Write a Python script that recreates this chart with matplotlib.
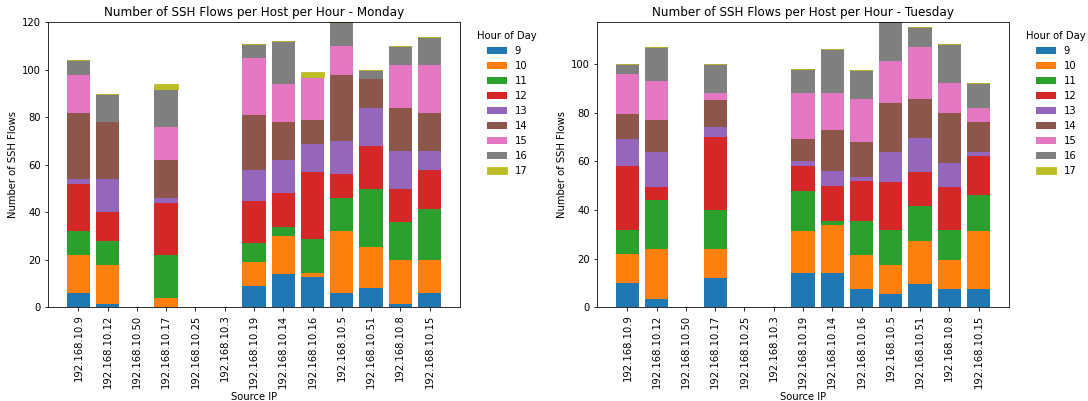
import numpy as np
import matplotlib
matplotlib.use("Agg")
import matplotlib.pyplot as plt

# source hosts (same order on both days)
hosts = ["192.168.10.9", "192.168.10.12", "192.168.10.50", "192.168.10.17",
         "192.168.10.25", "192.168.10.3", "192.168.10.19", "192.168.10.14",
         "192.168.10.16", "192.168.10.5", "192.168.10.51", "192.168.10.8",
         "192.168.10.15"]
hours = [9, 10, 11, 12, 13, 14, 15, 16, 17]

# flows per hour, one list per hour of day (values per host)
monday_9 = [6, 1.5, 0, 0, 0, 0, 9, 14, 13, 6, 8, 1.5, 6]
monday_10 = [16, 16.5, 0, 4, 0, 0, 10, 16, 1.5, 26, 17.5, 18.5, 14]
monday_11 = [10, 10, 0, 18, 0, 0, 8, 4, 14.5, 14, 24.5, 16, 21.5]
monday_12 = [20, 12, 0, 22, 0, 0, 18, 14, 28, 10, 18, 14, 16.5]
monday_13 = [2, 14, 0, 2, 0, 0, 13, 14, 12, 14, 16, 16, 8]
monday_14 = [28, 24, 0, 16, 0, 0, 23, 16, 10, 28, 12, 18, 16]
monday_15 = [16, 0, 0, 14, 0, 0, 24, 16, 18, 12, 0, 18, 20]
monday_16 = [6, 12, 0, 16, 0, 0, 6, 18, 0, 10, 4, 8, 12]
monday_17 = [0, 0, 0, 2, 0, 0, 0, 0, 2, 0, 0, 0, 0]

tuesday_9 = [10, 3.5, 0, 12, 0, 0, 14, 14, 7.5, 5.5, 9.5, 7.5, 7.5]
tuesday_10 = [12, 20.5, 0, 12, 0, 0, 17.5, 20, 14, 12, 18, 12, 24]
tuesday_11 = [10, 20, 0, 16, 0, 0, 16.5, 1.5, 14, 14.5, 14, 12.5, 14.5]
tuesday_12 = [26, 5.5, 0, 30, 0, 0, 10, 14.5, 16.5, 19.5, 14, 17.5, 16]
tuesday_13 = [11, 14.5, 0, 4, 0, 0, 2, 6, 1.5, 12.5, 14, 10, 2]
tuesday_14 = [10.5, 13, 0, 11, 0, 0, 9, 17, 14.5, 20, 16, 20.5, 12]
tuesday_15 = [16.5, 16, 0, 3, 0, 0, 19, 15, 17.5, 17, 21.5, 12, 6]
tuesday_16 = [4, 14, 0, 12, 0, 0, 10, 18, 12, 17, 8, 16, 10]
tuesday_17 = [0, 0, 0, 0, 0, 0, 0, 0, 0, 0, 0, 0, 0]

monday = [monday_9, monday_10, monday_11, monday_12, monday_13,
          monday_14, monday_15, monday_16, monday_17]
tuesday = [tuesday_9, tuesday_10, tuesday_11, tuesday_12, tuesday_13,
           tuesday_14, tuesday_15, tuesday_16, tuesday_17]

fig = plt.figure(figsize=(1088 / 72, 401 / 72), dpi=72)
ax1 = fig.add_axes([0.0441, 0.2332, 0.3787, 0.7107])
ax2 = fig.add_axes([0.5487, 0.2332, 0.3787, 0.7107])

x = np.arange(len(hosts))
for ax, data, day, top in [(ax1, monday, "Monday", 120), (ax2, tuesday, "Tuesday", 117)]:
    bottom = np.zeros(len(hosts))
    for i, (h, vals) in enumerate(zip(hours, data)):
        vals = np.array(vals, dtype=float)
        color = f"C{i}"
        # last hour gets a thin edge so empty segments still show as a line
        lw = 0.8 if h == 17 else 0
        ax.bar(x, vals, 0.8, bottom=bottom, label=str(h), color=color,
               edgecolor=color, linewidth=lw)
        bottom += vals
    ax.set_xticks(x)
    ax.set_xticklabels(hosts, rotation=90)
    ax.set_ylim(0, top)
    ax.set_title(f"Number of SSH Flows per Host per Hour - {day}")
    ax.set_xlabel("Source IP")
    ax.set_ylabel("Number of SSH Flows")
    ax.legend(title="Hour of Day", bbox_to_anchor=(1.02, 1), loc="upper left",
              frameon=False)

plt.savefig("out.png", dpi=72)
